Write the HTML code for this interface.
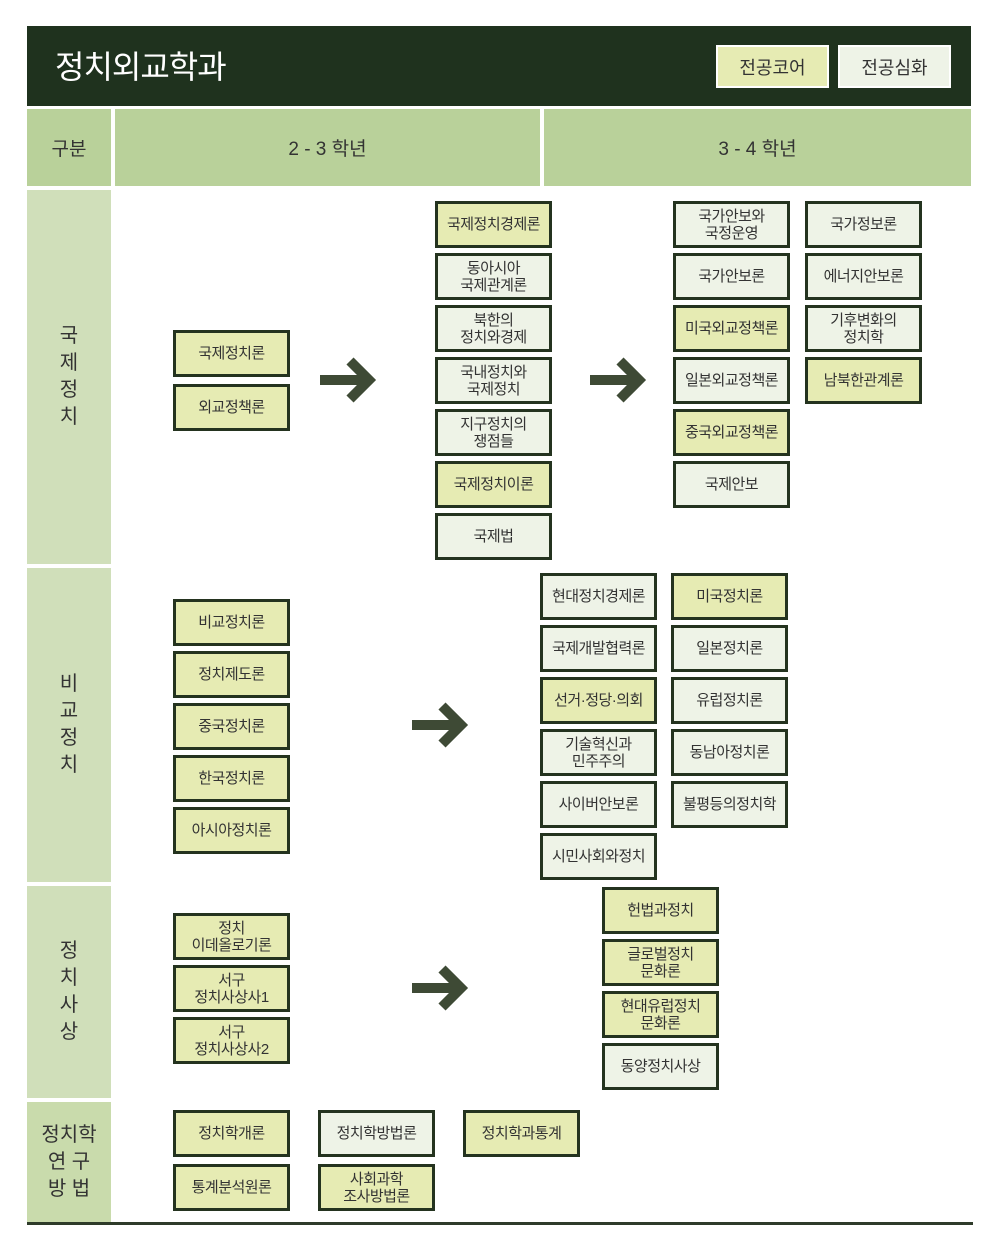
<!DOCTYPE html>
<html><head><meta charset="utf-8"><style>
body{margin:0;width:1008px;height:1242px;background:#fff;position:relative;font-family:"Liberation Sans","Noto Sans CJK KR",sans-serif;overflow:hidden}
.a{position:absolute;box-sizing:border-box}
.hd{background:#1f321e}
.ch{background:#b9d19a;color:#333;font-size:19px;display:flex;align-items:center;justify-content:center}
.lc{background:#d0dfba;color:#333;font-size:20px;display:flex;align-items:center;justify-content:center;text-align:center;line-height:27px}
.b{width:117px;height:47px;border:3px solid #24331f;display:flex;align-items:center;justify-content:center;text-align:center;font-size:15px;line-height:17px;color:#333;letter-spacing:-0.5px}
.y{background:#e6ebb3}.l{background:#eef3e7}
</style></head><body>
<div class="a hd" style="left:27px;top:26px;width:944px;height:80px"></div>
<div class="a" style="left:55px;top:45px;color:#fff;font-size:32px;line-height:44px;letter-spacing:-1px">정치외교학과</div>
<div class="a" style="left:716px;top:45px;width:113px;height:43px;background:#e6ebb3;border:2px solid #fff;display:flex;align-items:center;justify-content:center;font-size:18px;color:#333">전공코어</div>
<div class="a" style="left:838px;top:45px;width:113px;height:43px;background:#eef3e7;border:2px solid #fff;display:flex;align-items:center;justify-content:center;font-size:18px;color:#333">전공심화</div>
<div class="a ch" style="left:27px;top:109px;width:84px;height:77px">구분</div>
<div class="a ch" style="left:115px;top:109px;width:425px;height:77px">2 - 3 학년</div>
<div class="a ch" style="left:544px;top:109px;width:427px;height:77px">3 - 4 학년</div>
<div class="a lc" style="left:27px;top:190px;width:84px;height:374px">국<br>제<br>정<br>치</div>
<div class="a lc" style="left:27px;top:568px;width:84px;height:314px">비<br>교<br>정<br>치</div>
<div class="a lc" style="left:27px;top:886px;width:84px;height:212px">정<br>치<br>사<br>상</div>
<div class="a lc" style="left:27px;top:1102px;width:84px;height:120px;background:#c9dbac">정치학<br>연 구<br>방 법</div>
<div class="a" style="left:27px;top:1222px;width:946px;height:3px;background:#2e3b2a"></div>
<svg class="a" style="left:0;top:0" width="1008" height="1242">
<g stroke="#3e4a35" stroke-width="10" fill="none" stroke-linejoin="miter">
<path d="M320 380h44M350 361l19 19-19 19"/>
<path d="M590 380h44M620 361l19 19-19 19"/>
<path d="M412 725h44M442 706l19 19-19 19"/>
<path d="M412 988h44M442 969l19 19-19 19"/>
</g>
</svg>
<!-- 국제정치 -->
<div class="a b y" style="left:173px;top:330px">국제정치론</div>
<div class="a b y" style="left:173px;top:384px">외교정책론</div>
<div class="a b y" style="left:435px;top:201px">국제정치경제론</div>
<div class="a b l" style="left:435px;top:253px">동아시아<br>국제관계론</div>
<div class="a b l" style="left:435px;top:305px">북한의<br>정치와경제</div>
<div class="a b l" style="left:435px;top:357px">국내정치와<br>국제정치</div>
<div class="a b l" style="left:435px;top:409px">지구정치의<br>쟁점들</div>
<div class="a b y" style="left:435px;top:461px">국제정치이론</div>
<div class="a b l" style="left:435px;top:513px">국제법</div>
<div class="a b l" style="left:673px;top:201px">국가안보와<br>국정운영</div>
<div class="a b l" style="left:673px;top:253px">국가안보론</div>
<div class="a b y" style="left:673px;top:305px">미국외교정책론</div>
<div class="a b l" style="left:673px;top:357px">일본외교정책론</div>
<div class="a b y" style="left:673px;top:409px">중국외교정책론</div>
<div class="a b l" style="left:673px;top:461px">국제안보</div>
<div class="a b l" style="left:805px;top:201px">국가정보론</div>
<div class="a b l" style="left:805px;top:253px">에너지안보론</div>
<div class="a b l" style="left:805px;top:305px">기후변화의<br>정치학</div>
<div class="a b y" style="left:805px;top:357px">남북한관계론</div>
<!-- 비교정치 -->
<div class="a b y" style="left:173px;top:599px">비교정치론</div>
<div class="a b y" style="left:173px;top:651px">정치제도론</div>
<div class="a b y" style="left:173px;top:703px">중국정치론</div>
<div class="a b y" style="left:173px;top:755px">한국정치론</div>
<div class="a b y" style="left:173px;top:807px">아시아정치론</div>
<div class="a b l" style="left:540px;top:573px">현대정치경제론</div>
<div class="a b l" style="left:540px;top:625px">국제개발협력론</div>
<div class="a b y" style="left:540px;top:677px">선거·정당·의회</div>
<div class="a b l" style="left:540px;top:729px">기술혁신과<br>민주주의</div>
<div class="a b l" style="left:540px;top:781px">사이버안보론</div>
<div class="a b l" style="left:540px;top:833px">시민사회와정치</div>
<div class="a b y" style="left:671px;top:573px">미국정치론</div>
<div class="a b l" style="left:671px;top:625px">일본정치론</div>
<div class="a b l" style="left:671px;top:677px">유럽정치론</div>
<div class="a b l" style="left:671px;top:729px">동남아정치론</div>
<div class="a b l" style="left:671px;top:781px">불평등의정치학</div>
<!-- 정치사상 -->
<div class="a b y" style="left:173px;top:913px">정치<br>이데올로기론</div>
<div class="a b y" style="left:173px;top:965px">서구<br>정치사상사1</div>
<div class="a b y" style="left:173px;top:1017px">서구<br>정치사상사2</div>
<div class="a b y" style="left:602px;top:887px">헌법과정치</div>
<div class="a b y" style="left:602px;top:939px">글로벌정치<br>문화론</div>
<div class="a b y" style="left:602px;top:991px">현대유럽정치<br>문화론</div>
<div class="a b l" style="left:602px;top:1043px">동양정치사상</div>
<!-- 방법 -->
<div class="a b y" style="left:173px;top:1110px">정치학개론</div>
<div class="a b l" style="left:318px;top:1110px">정치학방법론</div>
<div class="a b y" style="left:463px;top:1110px">정치학과통계</div>
<div class="a b y" style="left:173px;top:1164px">통계분석원론</div>
<div class="a b y" style="left:318px;top:1164px">사회과학<br>조사방법론</div>
</body></html>
